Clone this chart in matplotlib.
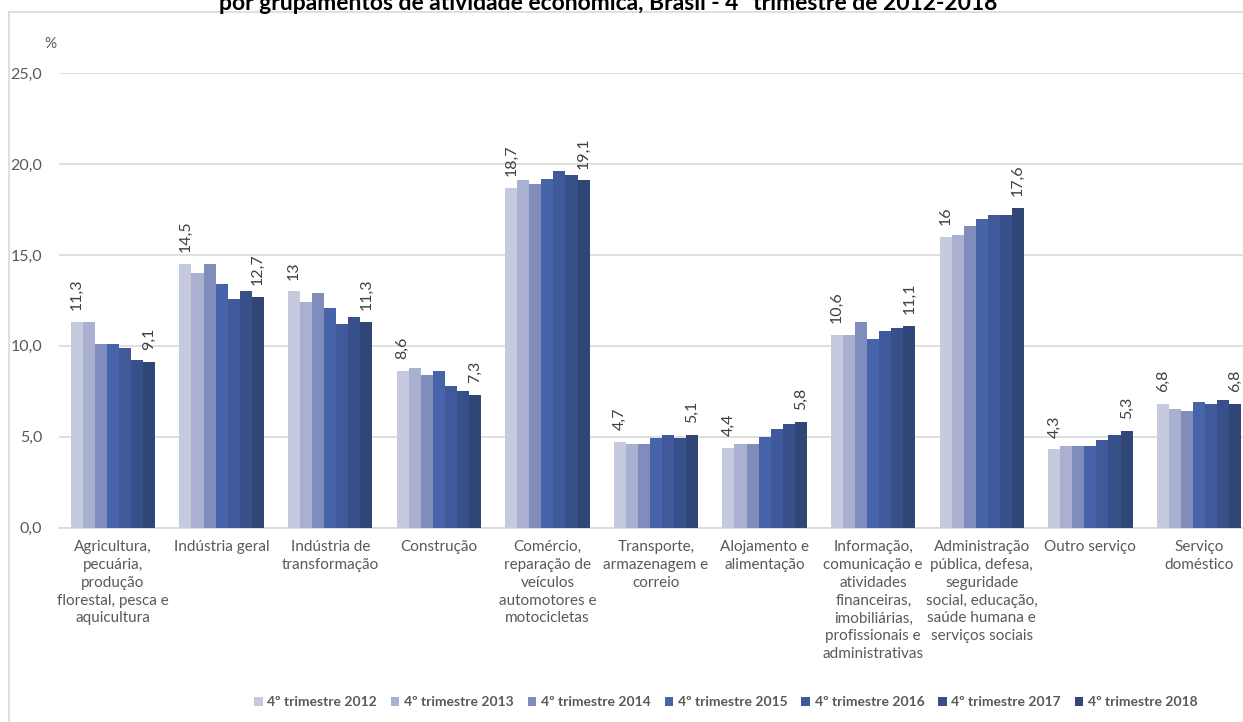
import matplotlib
matplotlib.use("Agg")
import matplotlib.pyplot as plt
import numpy as np
from matplotlib.lines import Line2D

plt.rcParams['font.family'] = ['Lato', 'DejaVu Sans']

categories = [
    "Agricultura,\npecuária,\nprodução\nflorestal, pesca e\naquicultura",
    "Indústria geral",
    "Indústria de\ntransformação",
    "Construção",
    "Comércio,\nreparação de\nveículos\nautomotores e\nmotocicletas",
    "Transporte,\narmazenagem e\ncorreio",
    "Alojamento e\nalimentação",
    "Informação,\ncomunicação e\natividades\nfinanceiras,\nimobiliárias,\nprofissionais e\nadministrativas",
    "Administração\npública, defesa,\nseguridade\nsocial, educação,\nsaúde humana e\nserviços sociais",
    "Outro serviço",
    "Serviço\ndoméstico",
]

series_names = ["4º trimestre 2012", "4º trimestre 2013", "4º trimestre 2014",
                "4º trimestre 2015", "4º trimestre 2016", "4º trimestre 2017",
                "4º trimestre 2018"]

t2012 = [11.3, 14.5, 13.0, 8.6, 18.7, 4.7, 4.4, 10.6, 16.0, 4.3, 6.8]
t2013 = [11.3, 14.0, 12.4, 8.8, 19.1, 4.6, 4.6, 10.6, 16.1, 4.5, 6.5]
t2014 = [10.1, 14.5, 12.9, 8.4, 18.9, 4.6, 4.6, 11.3, 16.6, 4.5, 6.4]
t2015 = [10.1, 13.4, 12.1, 8.6, 19.2, 4.9, 5.0, 10.4, 17.0, 4.5, 6.9]
t2016 = [9.9, 12.6, 11.2, 7.8, 19.6, 5.1, 5.4, 10.8, 17.2, 4.8, 6.8]
t2017 = [9.2, 13.0, 11.6, 7.5, 19.4, 4.9, 5.7, 11.0, 17.2, 5.1, 7.0]
t2018 = [9.1, 12.7, 11.3, 7.3, 19.1, 5.1, 5.8, 11.1, 17.6, 5.3, 6.8]
series = [t2012, t2013, t2014, t2015, t2016, t2017, t2018]

first_labels = ["11,3", "14,5", "13", "8,6", "18,7", "4,7", "4,4", "10,6", "16", "4,3", "6,8"]
last_labels = ["9,1", "12,7", "11,3", "7,3", "19,1", "5,1", "5,8", "11,1", "17,6", "5,3", "6,8"]

yticks = [0, 5, 10, 15, 20, 25]
ytick_labels = ["0,0", "5,0", "10,0", "15,0", "20,0", "25,0"]

title = "por grupamentos de atividade econômica, Brasil - 4º trimestre de 2012-2018"

colors = ["#C5CADF", "#AAB0D0", "#808CBC", "#4764AB", "#3F599B", "#38508A", "#2F4677"]

W, H = 1243, 722
fig = plt.figure(figsize=(W / 100, H / 100), dpi=100)

ax_left = 58.7
spacing = 108.6
ax_width = spacing * len(categories)
ax_bottom = 527.5
ax_top = 73.3
ax = fig.add_axes([ax_left / W, 1 - ax_bottom / H, ax_width / W, (ax_bottom - ax_top) / H])

n = len(series)
bw = 0.111
x = np.arange(len(categories))
bars = []
for i, (vals, c) in enumerate(zip(series, colors)):
    pos = x + (i - (n - 1) / 2) * bw
    b = ax.bar(pos, vals, width=bw, color=c, zorder=3, label=series_names[i])
    bars.append(b)

# data labels first and last
for j in range(len(categories)):
    for i, labs in ((0, first_labels), (n - 1, last_labels)):
        rect = bars[i][j]
        ax.annotate(labs[j], (rect.get_x() + rect.get_width() / 2, rect.get_height()),
                    xytext=(0, 8.5), textcoords="offset points", rotation=90,
                    ha="center", va="bottom", fontsize=11.5, color="#404040")

ax.set_xlim(-0.5, len(categories) - 0.5)
ax.set_ylim(0, 25)
ax.set_yticks(yticks)
ax.set_yticklabels(ytick_labels, fontsize=11.5, color="#595959")
ax.yaxis.grid(True, color="#D9D9D9", linewidth=1.2, zorder=0)
ax.set_xticks(x)
ax.set_xticklabels(categories, fontsize=11, color="#595959", linespacing=1.35, va="top")
ax.tick_params(axis="both", length=0)
ax.tick_params(axis="y", pad=12)
ax.tick_params(axis="x", pad=9)
for s in ["top", "right", "left"]:
    ax.spines[s].set_visible(False)
ax.spines["bottom"].set_color("#D9D9D9")
ax.spines["bottom"].set_linewidth(1.2)
ax.set_axisbelow(True)

# "%" label
fig.text(50 / W, 1 - 44 / H, "%", fontsize=11, color="#595959", ha="center", va="center")

# title (cropped at top, as in the reference)
fig.text(608 / W, 1 - 10 / H, title, fontsize=16.5, fontweight="bold", color="#000000",
         ha="center", va="baseline")

# chart border
fig.add_artist(Line2D([9 / W, 9 / W], [1 - 12 / H, 0], color="#D9D9D9", lw=1.2))
fig.add_artist(Line2D([9 / W, 1], [1 - 12 / H, 1 - 12 / H], color="#D9D9D9", lw=1.2))

# legend
leg = fig.legend(handles=bars, labels=series_names, loc="center",
                 bbox_to_anchor=(726 / W, 1 - 702 / H), ncol=7, frameon=False,
                 handlelength=0.6, handleheight=0.6, handletextpad=0.35,
                 columnspacing=1.0, prop={"size": 10, "weight": "bold"})
for t in leg.get_texts():
    t.set_color("#595959")

fig.savefig("out.png", dpi=100)
